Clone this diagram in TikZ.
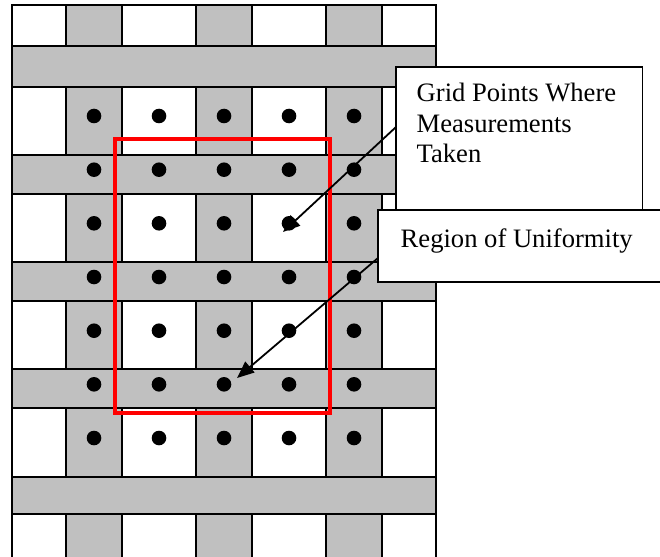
\documentclass[tikz,border=0pt]{standalone}
\usepackage{fontspec}
\setmainfont{Liberation Serif}
\usepackage{xcolor}
\usepackage{tikz}
\usetikzlibrary{arrows.meta}
\definecolor{band}{HTML}{C0C0C0}
\definecolor{ink}{HTML}{000000}
\definecolor{zone}{HTML}{FF0000}
\tikzset{
  gridline/.style={draw=ink, line width=2.2pt, line cap=rect},
  zonebox/.style={draw=zone, line width=3.3pt},
  note/.style={rectangle, draw=ink, fill=white, line width=1.6pt, outer sep=0pt,
               anchor=north west, font=\fontsize{26.6pt}{30.5pt}\selectfont},
  pointer/.style={-{Triangle[length=17pt,width=14pt]}, draw=ink, line width=1.8pt}
}

\begin{document}
\begin{tikzpicture}[x=1pt, y=-1pt]
  \useasboundingbox (0,0) rectangle (660,556);
  \clip (0,0) rectangle (660,556);
  \fill[white] (0,0) rectangle (660,556);
  % grey columns and bands
  \foreach \xa/\xb in {66/122, 196/252, 326/382}
    \fill[band] (\xa,5) rectangle (\xb,560);
  \foreach \ya/\yb in {46/87, 155/194, 262/301, 369/408, 477/514}
    \fill[band] (12,\ya) rectangle (436,\yb);
  % grid lines
  \foreach \y in {5,46,87,155,194,262,301,369,408,477,514}
    \draw[gridline] (12,\y) -- (436,\y);
  \foreach \ya/\yb in {5/46, 87/155, 194/262, 301/369, 408/477, 514/560}
    \foreach \x in {66,122,196,252,326,382}
      \draw[gridline] (\x,\ya) -- (\x,\yb);
  \draw[gridline] (12,5) -- (12,560) (436,5) -- (436,560);
  % measurement points
  \foreach \y in {116,169.7,223.3,277,330.7,384.3,438}
    \foreach \x in {94,159,224,289,354}
      \fill[ink] (\x,\y) circle[radius=7.3];
  \draw[zonebox] (115,139) rectangle (330,413);
  % callouts
  \node[note, inner xsep=20.7pt, inner ysep=13.35pt] (gp) at (396,67)
    {\parbox[t][116.3pt][t]{205pt}{\strut Grid Points Where\\Measurements\\Taken}};
  \node[note, inner xsep=22.7pt, inner ysep=15.65pt] (ru) at (378,210)
    {\parbox[t][40.7pt][t]{280pt}{\strut Region of Uniformity}};
  \coordinate (tipA) at (283,232);
  \coordinate (tipB) at (237,378);
  \draw[pointer] ([yshift=11.5pt]gp.west) -- (tipA);
  \draw[pointer] ([yshift=-12pt]ru.west) -- (tipB);
\end{tikzpicture}
\end{document}
